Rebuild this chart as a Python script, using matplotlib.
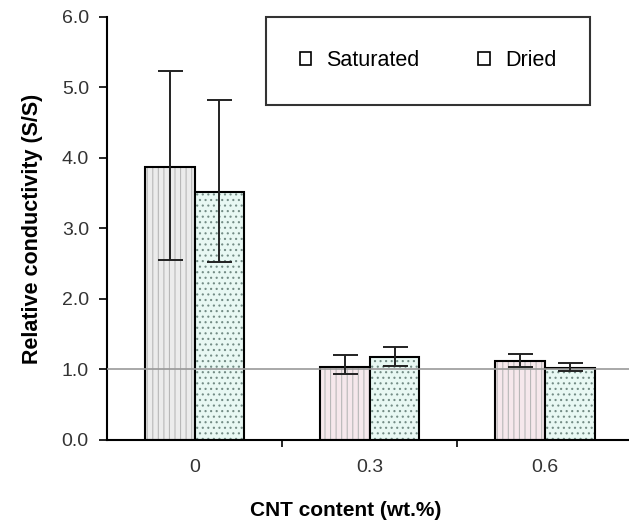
import numpy as np
import matplotlib.pyplot as plt
from matplotlib.patches import Patch

plt.rcParams['font.family'] = ['Liberation Sans', 'DejaVu Sans']
plt.rcParams['hatch.linewidth'] = 0.8

categories = ['0', '0.3', '0.6']
saturated = [3.87, 1.04, 1.12]
sat_err_hi = [1.36, 0.16, 0.10]
sat_err_lo = [1.32, 0.10, 0.09]
dried = [3.52, 1.18, 1.02]
dry_err_hi = [1.30, 0.14, 0.07]
dry_err_lo = [1.00, 0.13, 0.04]

x = np.arange(len(categories))
w = 0.284

fig = plt.figure(figsize=(6.29, 5.25), dpi=100)
ax = fig.add_axes([0.170, 0.162, 0.83, 0.806])

sat_colors = ['#ececec', '#f6e8ec', '#f6e8ec']
b1 = ax.bar(x - w / 2, saturated, w, color=sat_colors, edgecolor='black', lw=1.5,
            hatch='|||', zorder=2)
b2 = ax.bar(x + w / 2, dried, w, color='#e8f8f3', edgecolor='black', lw=1.5,
            hatch='...', zorder=2)
for b in b1:
    b._hatch_color = (0.72, 0.72, 0.72, 1)
for b in b2:
    b._hatch_color = (0.45, 0.55, 0.52, 1)

ax.errorbar(x - w / 2, saturated, yerr=[sat_err_lo, sat_err_hi], fmt='none',
            ecolor='#222222', elinewidth=1.4, capsize=9, capthick=1.4, zorder=4)
ax.errorbar(x + w / 2, dried, yerr=[dry_err_lo, dry_err_hi], fmt='none',
            ecolor='#222222', elinewidth=1.4, capsize=9, capthick=1.4, zorder=4)

ax.axhline(1.0, color='#999999', lw=1.2, zorder=3)

ax.set_xlim(-0.5, 2.48)
ax.set_ylim(0, 6.0)
ax.set_yticks(np.arange(0, 6.01, 1.0))
ax.set_yticklabels([f'{v:.1f}' for v in np.arange(0, 6.01, 1.0)], fontsize=14, color='#333333')
ax.set_xticks(x)
ax.set_xticklabels(categories, fontsize=14, color='#333333')
ax.tick_params(axis='x', length=0, pad=14)
ax.set_xticks([0.5, 1.5], minor=True)
ax.tick_params(axis='x', which='minor', length=5, width=1.2, direction='out')
ax.tick_params(axis='y', length=6, width=1.2, direction='out', pad=7)

for s in ['top', 'right']:
    ax.spines[s].set_visible(False)
for s in ['left', 'bottom']:
    ax.spines[s].set_linewidth(1.5)

ax.set_xlabel('CNT content (wt.%)', fontsize=15, fontweight='bold')
ax.xaxis.set_label_coords(0.458, -0.145)
ax.set_ylabel('Relative conductivity (S/S)', fontsize=15.5, fontweight='bold')
ax.yaxis.set_label_coords(-0.122, 0.5)

handles = [Patch(facecolor='white', edgecolor='black', lw=1.2, label='Saturated'),
           Patch(facecolor='white', edgecolor='black', lw=1.2, label='Dried')]
leg = ax.legend(handles=handles, loc='upper left', bbox_to_anchor=(0.305, 1.0, 0.62, 0.0),
                mode='expand', ncol=2, fontsize=15.5, frameon=True, fancybox=False,
                borderpad=1.55, handlelength=0.55, handleheight=0.55, handletextpad=0.7,
                columnspacing=2.5, borderaxespad=0)
leg.get_frame().set_edgecolor('black')
leg.get_frame().set_linewidth(1.5)

fig.savefig('out.png', dpi=100)
